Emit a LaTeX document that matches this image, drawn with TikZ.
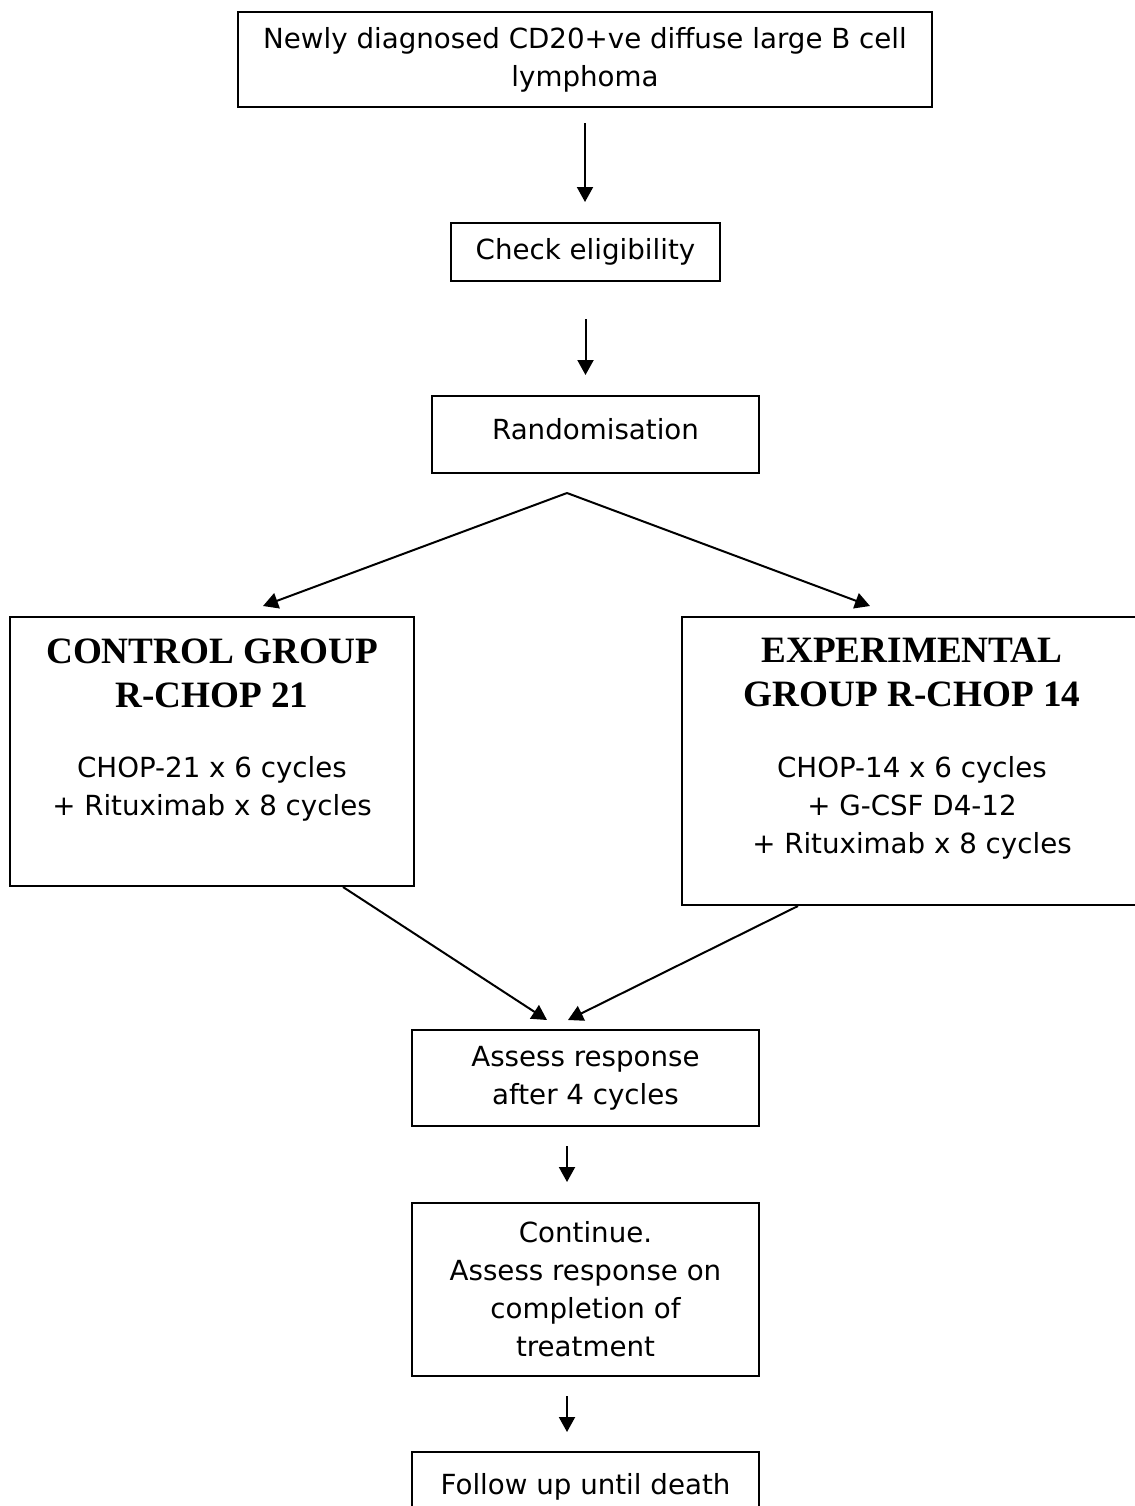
\documentclass[tikz,border=0pt]{standalone}
\usepackage{fontspec}
\setmainfont{DejaVu Sans}
\newfontfamily\headfont{Liberation Serif}
\usepackage{tikz}
\usetikzlibrary{arrows.meta, calc, positioning}

\begin{document}
\begin{tikzpicture}[x=0.5pt,y=-0.5pt,
  box/.style={draw, line width=1pt, align=center, inner sep=0pt,
    font=\fontsize{13.85}{19}\selectfont},
  head/.style={align=center, inner sep=0pt,
    font=\headfont\bfseries\fontsize{18.6}{22}\selectfont},
  body/.style={align=center, inner sep=0pt,
    font=\fontsize{13.85}{19}\selectfont},
  arr/.style={-{Triangle[length=7.5pt,width=8pt]}, line width=1pt}]
\useasboundingbox (0,0) rectangle (1135,1506);
%%
  % Node: diagnosis
  \node[box, minimum width=347pt, minimum height=47.5pt] (diag) at (585,59.5)
    {Newly diagnosed CD20+ve diffuse large B cell\\lymphoma};
  % Node: check
  \node[box, minimum width=134.5pt, minimum height=29pt] (check) at (585.5,252)
    {Check eligibility};
  % Node: randomisation
  \node[box, minimum width=163.5pt, minimum height=38.5pt, text depth=6pt] (rand)
    at (595.5,434.5) {Randomisation};
  % Node: control arm
  \node[box, minimum width=202pt, minimum height=134.5pt] (ctrl) at (212,751.5) {};
  \node[head, below=11pt of ctrl.north] (ctrlhead) {CONTROL GROUP\\R-CHOP 21};
  \node[body, below=24pt of ctrlhead] (ctrlbody)
    {CHOP-21 x 6 cycles\\+ Rituximab x 8 cycles};
  % Node: experimental arm
  \node[box, minimum width=230pt, minimum height=144pt] (expt) at (912,761) {};
  \node[head, below=11pt of expt.north] (expthead) {EXPERIMENTAL\\GROUP R-CHOP 14};
  \node[body, below=24pt of expthead] (exptbody)
    {CHOP-14 x 6 cycles\\+ G-CSF D4-12\\+ Rituximab x 8 cycles};
  % Node: assess
  \node[box, minimum width=173.5pt, minimum height=48pt] (assess) at (585.5,1078)
    {Assess response\\after 4 cycles};
  % Node: continue
  \node[box, minimum width=173.5pt, minimum height=86.5pt] (cont) at (585.5,1289.5)
    {Continue.\\Assess response on\\completion of\\treatment};
  % Node: follow up
  \node[box, minimum width=173.5pt, minimum height=35pt] (follow) at (585.5,1487)
    {Follow up until death};
%%
  \coordinate (split) at ($(rand.south)+(-28.5,19)$);
  % Edge: diag -- check
  \draw[arr, shorten <=7.5pt, shorten >=10pt] (diag.south) -- (diag.south |- check.north);
  % Edge: check -- rand
  \draw[arr, shorten <=18.5pt, shorten >=10pt] (check.south) -- (check.south |- rand.north);
  % Edge: rand -- ctrl
  \draw[arr] (split) -- ($(ctrl.north)+(51,-10)$);
  % Edge: rand -- expt
  \draw[arr] (split) -- ($(expt.north)+(-42,-10)$);
  % Edge: ctrl -- assess
  \draw[arr] ($(ctrl.south)+(131,0)$) -- ($(assess.north)+(-38.5,-9)$);
  % Edge: expt -- assess
  \draw[arr] ($(expt.south)+(-114,0)$) -- ($(assess.north)+(-17.5,-9)$);
  % Edge: assess -- cont
  \draw[arr] ($(assess.south)+(-18.5,19)$) -- ($(cont.north)+(-18.5,-20)$);
  % Edge: cont -- follow
  \draw[arr] ($(cont.south)+(-18.5,19)$) -- ($(follow.north)+(-18.5,-19)$);
%
\end{tikzpicture}
\end{document}
